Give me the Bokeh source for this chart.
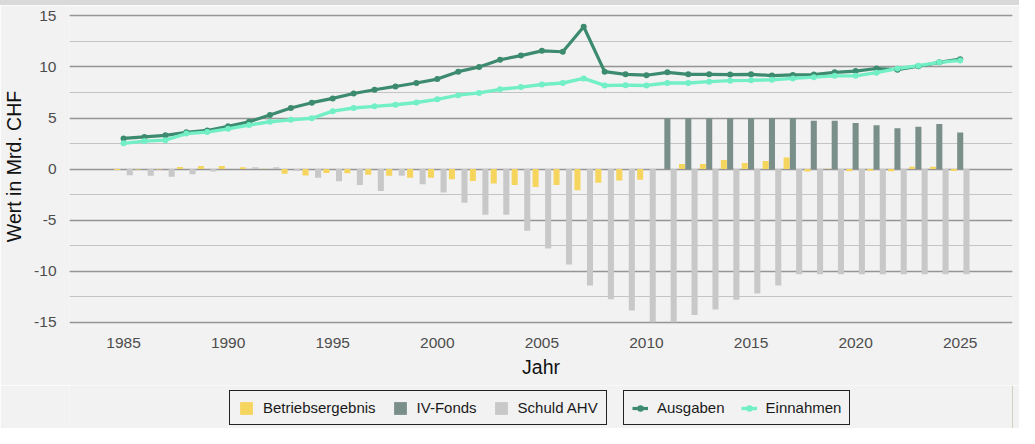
from bokeh.plotting import figure
from bokeh.layouts import column
from bokeh.models import (Range1d, SingleIntervalTicker, Legend, LegendItem,
                          ColumnDataSource, PrintfTickFormatter, Div)
from bokeh.transform import dodge
from bokeh.embed import file_html
from bokeh.resources import INLINE

years = list(range(1985, 2026))

ausgaben = [3.0, 3.15, 3.3, 3.6, 3.78, 4.18, 4.63, 5.3, 5.98, 6.5,
            6.92, 7.4, 7.77, 8.09, 8.43, 8.81, 9.54, 10.0, 10.7, 11.11,
            11.58, 11.49, 13.94, 9.54, 9.28, 9.19, 9.47, 9.28, 9.28, 9.25,
            9.28, 9.16, 9.22, 9.25, 9.47, 9.6, 9.85, 9.73, 10.07, 10.45, 10.76]

einnahmen = [2.52, 2.74, 2.83, 3.47, 3.62, 3.94, 4.31, 4.63, 4.82, 4.97,
             5.67, 5.98, 6.14, 6.3, 6.52, 6.83, 7.24, 7.46, 7.81, 8.03,
             8.28, 8.43, 8.88, 8.19, 8.22, 8.19, 8.43, 8.43, 8.56, 8.66,
             8.69, 8.75, 8.88, 9.0, 9.13, 9.13, 9.44, 9.85, 10.13, 10.45, 10.64]

betriebsergebnis = [-0.1, -0.05, -0.05, 0.2, 0.3, 0.3, 0.17, 0.03, -0.45, -0.62,
                    -0.38, -0.41, -0.57, -0.66, -0.85, -0.85, -1.0, -1.16, -1.42, -1.57,
                    -1.76, -1.57, -2.08, -1.35, -1.12, -1.05, 0.0, 0.5, 0.5, 0.88,
                    0.6, 0.79, 1.13, -0.25, 0.03, -0.22, -0.16, -0.22, 0.22, 0.22, -0.19]

iv_fonds = [0.0] * 26 + [5.0, 5.0, 5.0, 5.0, 5.0, 5.0, 5.0, 4.72, 4.72, 4.5,
                         4.28, 4.0, 4.15, 4.41, 3.59]

schuld_ahv = [-0.6, -0.66, -0.76, -0.5, -0.25, 0.0, 0.17, 0.17, -0.2, -0.85,
              -1.19, -1.57, -2.14, -0.66, -1.48, -2.3, -3.3, -4.47, -4.47, -6.04,
              -7.77, -9.35, -11.4, -12.75, -13.85, -15.0, -15.0, -14.3, -13.75, -12.8,
              -12.2, -11.4, -10.3, -10.3, -10.3, -10.3, -10.3, -10.3, -10.3, -10.3, -10.3]

src = ColumnDataSource(dict(year=years, aus=ausgaben, ein=einnahmen,
                            be=betriebsergebnis, iv=iv_fonds, sa=schuld_ahv))

BG = "#F2F2F2"
FONT = "Liberation Sans"
C_BE = "#F6D55F"
C_IV = "#7B8F8A"
C_SA = "#C8C8C8"
C_A = "#3D8B6F"
C_E = "#72EFC6"

W = 1019
FL = 68

band = Div(text="", width=W, height=5, margin=0,
           styles={"background-color": "#D9D9D9"})

p = figure(width=W, height=380, output_backend="svg", toolbar_location=None,
           x_range=Range1d(1982.416, 2027.5), y_range=Range1d(-15.421, 15.921),
           min_border_left=FL, min_border_right=7, min_border_top=1, min_border_bottom=59,
           background_fill_color=BG, border_fill_color=BG, outline_line_color=None)

xt = SingleIntervalTicker(interval=5, num_minor_ticks=0)
yt = SingleIntervalTicker(interval=5, num_minor_ticks=2)
p.xaxis.ticker = xt
p.yaxis.ticker = yt
p.ygrid.ticker = yt
p.xaxis.formatter = PrintfTickFormatter(format="%d")
p.yaxis.formatter = PrintfTickFormatter(format="%d")
p.xgrid.visible = False
p.ygrid.grid_line_color = "#959595"
p.ygrid.grid_line_width = 1.3
p.ygrid.minor_grid_line_color = "#C4C4C4"
p.ygrid.minor_grid_line_width = 1.1

for ax in (p.xaxis, p.yaxis):
    ax.axis_line_color = None
    ax.major_tick_line_color = None
    ax.minor_tick_line_color = None
    ax.major_label_text_font = FONT
    ax.major_label_text_font_size = "15.5px"
    ax.major_label_text_color = "#4D4D4D"
    ax.axis_label_text_font = FONT
    ax.axis_label_text_font_size = "19.5px"
    ax.axis_label_text_font_style = "normal"
    ax.axis_label_text_color = "#111111"

p.xaxis.axis_label = "Jahr"
p.yaxis.axis_label = "Wert in Mrd. CHF"
p.xaxis.major_label_standoff = 5
p.yaxis.major_label_standoff = 7
p.xaxis.axis_label_standoff = 5
p.yaxis.axis_label_standoff = 6

bw = 0.29
p.vbar(x=dodge("year", -0.3), top="be", bottom=0, width=bw, source=src,
       fill_color=C_BE, line_color=None)
p.vbar(x=dodge("year", 0.0), top="iv", bottom=0, width=bw, source=src,
       fill_color=C_IV, line_color=None)
p.vbar(x=dodge("year", 0.3), top="sa", bottom=0, width=bw, source=src,
       fill_color=C_SA, line_color=None)

p.line("year", "aus", source=src, line_color=C_A, line_width=3.2)
p.line("year", "ein", source=src, line_color=C_E, line_width=3.4)
p.scatter("year", "aus", source=src, size=6, fill_color=C_A, line_color=None)
p.scatter("year", "ein", source=src, size=6, fill_color=C_E, line_color=None)

# legend strip below the chart (its key glyphs lie outside its visible range)
lf = figure(width=W, height=43, output_backend="svg", toolbar_location=None,
            x_range=Range1d(0, 1), y_range=Range1d(0, 1),
            x_axis_location=None, y_axis_location=None,
            min_border=0, min_border_left=FL, min_border_right=7,
            min_border_top=0, min_border_bottom=0,
            background_fill_color=BG, border_fill_color=BG, outline_line_color=None)
lf.grid.visible = False

k_be = lf.vbar(x=[10], top=[10], width=0.1, fill_color=C_BE, line_color=None)
k_iv = lf.vbar(x=[10], top=[10], width=0.1, fill_color=C_IV, line_color=None)
k_sa = lf.vbar(x=[10], top=[10], width=0.1, fill_color=C_SA, line_color=None)
k_la = lf.line(x=[10, 11], y=[10, 10], line_color=C_A, line_width=3.2)
k_pa = lf.scatter(x=[10], y=[10], size=6, fill_color=C_A, line_color=None)
k_le = lf.line(x=[10, 11], y=[10, 10], line_color=C_E, line_width=3.4)
k_pe = lf.scatter(x=[10], y=[10], size=6, fill_color=C_E, line_color=None)


def mk_legend(items, loc):
    lg = Legend(items=items, location=loc, orientation="horizontal",
                glyph_width=16, glyph_height=16, label_standoff=9, spacing=16,
                padding=8, margin=0, border_line_color="#222222", border_line_width=1,
                border_line_alpha=1.0, background_fill_color=BG, background_fill_alpha=1.0,
                label_text_font=FONT, label_text_font_size="15px", label_text_color="#1a1a1a")
    lf.add_layout(lg, "center")
    return lg


mk_legend([LegendItem(label="Betriebsergebnis", renderers=[k_be]),
           LegendItem(label="IV-Fonds", renderers=[k_iv]),
           LegendItem(label="Schuld AHV", renderers=[k_sa])], (228 - FL, 3))
mk_legend([LegendItem(label="Ausgaben", renderers=[k_la, k_pa]),
           LegendItem(label="Einnahmen", renderers=[k_le, k_pe])], (622 - FL, 3))

layout = column(band, p, lf, spacing=0)
open("out.html", "w").write(file_html(layout, INLINE))
